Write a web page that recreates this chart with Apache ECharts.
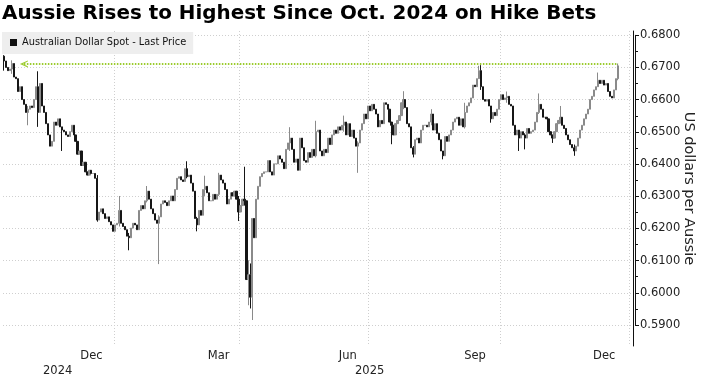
<!DOCTYPE html>
<html>
<head>
<meta charset="utf-8">
<script src="https://cdn.jsdelivr.net/npm/echarts@6/dist/echarts.min.js"></script>
<style>
  html, body { margin: 0; padding: 0; background: #fff; }
  #chart { width: 704px; height: 377px; }
</style>
</head>
<body>
<div id="chart"></div>
<script>
// trading days on the axis: weekdays, a few holidays dropped
const firstDay = '2024-10-14';
const lastDay = '2026-01-02';
const holidays = ['2024-12-25', '2025-01-01', '2025-12-25'];

const seriesName = 'Australian Dollar Spot - Last Price';

// daily closes from 2024-10-14
const closes = [
  // Oct 2024
  0.6720, 0.6700, 0.6690, 0.6695, 0.6712, 0.6670, 0.6665, 0.6625, 0.6640, 0.6600, 0.6585, 0.6560, 0.6570, 0.6580,
  // Nov
  0.6575, 0.6600, 0.6640, 0.6560, 0.6650, 0.6580, 0.6560, 0.6525, 0.6490, 0.6455, 0.6470, 0.6530, 0.6520, 0.6540,
  0.6515, 0.6505, 0.6500, 0.6490, 0.6485, 0.6500, 0.6520,
  // Dec
  0.6490, 0.6470, 0.6430, 0.6440, 0.6395, 0.6405, 0.6375, 0.6365, 0.6380, 0.6370, 0.6370, 0.6355, 0.6225, 0.6250,
  0.6260, 0.6245, 0.6230, 0.6235, 0.6220, 0.6210, 0.6190,
  // Jan 2025
  0.6210, 0.6215, 0.6255, 0.6215, 0.6205, 0.6195, 0.6175, 0.6170, 0.6200, 0.6215, 0.6210, 0.6195, 0.6255, 0.6270,
  0.6260, 0.6285, 0.6315, 0.6290, 0.6260, 0.6245, 0.6225, 0.6215,
  // Feb
  0.6235, 0.6275, 0.6285, 0.6280, 0.6270, 0.6285, 0.6300, 0.6285, 0.6320, 0.6355, 0.6360, 0.6350, 0.6345, 0.6385,
  0.6360, 0.6365, 0.6340, 0.6315, 0.6230, 0.6210,
  // Mar
  0.6255, 0.6240, 0.6320, 0.6330, 0.6310, 0.6285, 0.6285, 0.6305, 0.6290, 0.6305, 0.6365, 0.6350, 0.6340, 0.6320,
  0.6275, 0.6290, 0.6310, 0.6300, 0.6315, 0.6290, 0.6250,
  // Apr
  0.6270, 0.6290, 0.6285, 0.6040, 0.6055, 0.5985, 0.6230, 0.6170, 0.6290, 0.6330, 0.6360, 0.6370, 0.6375, 0.6375,
  0.6410, 0.6375, 0.6365, 0.6400, 0.6400, 0.6425, 0.6415, 0.6405,
  // May
  0.6385, 0.6445, 0.6465, 0.6480, 0.6445, 0.6405, 0.6415, 0.6380, 0.6480, 0.6450, 0.6410, 0.6405, 0.6435, 0.6420,
  0.6445, 0.6425, 0.6500, 0.6505, 0.6440, 0.6425, 0.6445, 0.6435,
  // Jun
  0.6480, 0.6460, 0.6490, 0.6505, 0.6495, 0.6515, 0.6505, 0.6520, 0.6530, 0.6490, 0.6525, 0.6485, 0.6505, 0.6480,
  0.6455, 0.6465, 0.6505, 0.6525, 0.6555, 0.6540, 0.6580,
  // Jul
  0.6565, 0.6585, 0.6570, 0.6555, 0.6515, 0.6535, 0.6525, 0.6590, 0.6585, 0.6570, 0.6530, 0.6520, 0.6490, 0.6525,
  0.6535, 0.6550, 0.6590, 0.6600, 0.6575, 0.6525, 0.6515, 0.6450, 0.6430,
  // Aug
  0.6475, 0.6480, 0.6465, 0.6505, 0.6520, 0.6520, 0.6515, 0.6530, 0.6555, 0.6505, 0.6525, 0.6495, 0.6475, 0.6440,
  0.6425, 0.6485, 0.6470, 0.6490, 0.6505, 0.6530, 0.6540,
  // Sep
  0.6545, 0.6520, 0.6540, 0.6515, 0.6560, 0.6580, 0.6590, 0.6605, 0.6645, 0.6640, 0.6665, 0.6690, 0.6640, 0.6600,
  0.6595, 0.6600, 0.6580, 0.6540, 0.6560, 0.6550, 0.6570, 0.6600,
  // Oct
  0.6615, 0.6600, 0.6605, 0.6610, 0.6585, 0.6580, 0.6520, 0.6490, 0.6505, 0.6480, 0.6500, 0.6490, 0.6480, 0.6510,
  0.6495, 0.6500, 0.6505, 0.6530, 0.6560, 0.6585, 0.6570, 0.6545, 0.6545,
  // Nov
  0.6540, 0.6500, 0.6490, 0.6480, 0.6500, 0.6525, 0.6535, 0.6545, 0.6520, 0.6510, 0.6490, 0.6475, 0.6460, 0.6450,
  0.6440, 0.6455, 0.6480, 0.6505, 0.6520, 0.6540,
  // Dec
  0.6555, 0.6570, 0.6600, 0.6610, 0.6630, 0.6640, 0.6660, 0.6650, 0.6660, 0.6645, 0.6650, 0.6625, 0.6610, 0.6605,
  0.6630, 0.6665, 0.6705
];
const firstOpen = 0.6735;

// bars whose range goes past open/close: [day index, low, high]
const wicks = [
  [0, 0.6690, 0.6738], [4, 0.6680, 0.6722], [12, 0.6520, 0.6580], [17, 0.6515, 0.6688],
  [29, 0.6440, 0.6515], [47, 0.6220, 0.6365], [58, 0.6205, 0.6300], [63, 0.6131, 0.6185],
  [72, 0.6280, 0.6331], [78, 0.6088, 0.6240], [92, 0.6355, 0.6408], [97, 0.6190, 0.6235],
  [101, 0.6300, 0.6363], [108, 0.6300, 0.6372], [118, 0.6222, 0.6300], [121, 0.6270, 0.6391],
  [123, 0.5960, 0.6100], [124, 0.5950, 0.6090], [125, 0.5914, 0.6230], [144, 0.6440, 0.6514],
  [157, 0.6420, 0.6534], [171, 0.6500, 0.6550], [178, 0.6372, 0.6470], [195, 0.6461, 0.6530],
  [201, 0.6570, 0.6626], [206, 0.6420, 0.6455], [215, 0.6520, 0.6570], [221, 0.6414, 0.6440],
  [232, 0.6510, 0.6590], [239, 0.6665, 0.6705], [240, 0.6630, 0.6707], [245, 0.6528, 0.6580],
  [253, 0.6590, 0.6625], [259, 0.6440, 0.6505], [262, 0.6445, 0.6495], [269, 0.6555, 0.6619],
  [276, 0.6465, 0.6490], [280, 0.6525, 0.6580], [287, 0.6425, 0.6460], [299, 0.6640, 0.6684],
  [309, 0.6660, 0.6712]
];

// x labels
const monthTicks = [['2024-12-13', 'Dec'], ['2025-03-17', 'Mar'], ['2025-06-16', 'Jun'], ['2025-09-12', 'Sep'], ['2025-12-12', 'Dec']];
const yearTicks = [['2024-11-20', '2024'], ['2025-07-01', '2025']];

// "highest since" line
const levelLine = 0.6711;
const levelFromIdx = 10;

const dates = [];
for (let d = new Date(firstDay + 'T00:00:00Z'); d <= new Date(lastDay + 'T00:00:00Z'); d.setUTCDate(d.getUTCDate() + 1)) {
  const wd = d.getUTCDay();
  const s = d.toISOString().slice(0, 10);
  if (wd === 0 || wd === 6 || holidays.includes(s)) continue;
  dates.push(s);
}

const wickOf = Object.fromEntries(wicks.map(w => [w[0], w]));
const ohlc = closes.map((c, i) => {
  const o = i ? closes[i - 1] : firstOpen;
  let lo = Math.min(o, c), hi = Math.max(o, c);
  if (wickOf[i]) { lo = Math.min(lo, wickOf[i][1]); hi = Math.max(hi, wickOf[i][2]); }
  return [o, c, lo, hi];
});

const monthOf = Object.fromEntries(monthTicks);
const yearOf = Object.fromEntries(yearTicks);
const isQuarterStart = (idx, val) => idx > 0 && val.slice(5, 7) !== dates[idx - 1].slice(5, 7) &&
  ['01', '04', '07', '10'].includes(val.slice(5, 7));

const FONT = 'DejaVu Sans';
const chart = echarts.init(document.getElementById('chart'));

chart.setOption({
  animation: false,
  title: {
    text: 'Aussie Rises to Highest Since Oct. 2024 on Hike Bets',
    left: 2, top: 4, padding: 0,
    textStyle: {fontFamily: FONT, fontWeight: 'bold', fontSize: 19.9, color: '#000'}
  },
  legend: {
    left: 2, top: 32, padding: [5, 7, 6, 8],
    backgroundColor: '#eeeeee',
    itemWidth: 7, itemHeight: 7, icon: 'rect',
    selectedMode: false,
    textStyle: {fontFamily: "'DejaVu Sans Condensed', 'Liberation Sans'", fontSize: 10.9, color: '#111'},
    data: [{name: seriesName, itemStyle: {color: '#111', borderWidth: 0}}]
  },
  grid: [
    {left: 3, right: 69, top: 31, bottom: 30.5},
    // second grid only for the y ticks, spans 0.59 .. 0.68
    {left: 3, right: 69, top: 35.3, bottom: 52}
  ],
  xAxis: [
    {
      type: 'category', data: dates, gridIndex: 0, boundaryGap: true,
      axisLine: {show: false}, axisTick: {show: false},
      splitLine: {show: true, interval: isQuarterStart, lineStyle: {color: '#cfcfcf', type: [1, 2]}},
      axisLabel: {
        interval: (idx, val) => monthOf[val] !== undefined,
        formatter: val => monthOf[val] || '',
        margin: 4, fontFamily: FONT, fontSize: 11.5, color: '#222'
      }
    },
    {
      type: 'category', data: dates, gridIndex: 0, position: 'bottom', offset: 15,
      axisLine: {show: false}, axisTick: {show: false}, splitLine: {show: false},
      axisLabel: {
        interval: (idx, val) => yearOf[val] !== undefined,
        formatter: val => yearOf[val] || '',
        margin: 4, fontFamily: FONT, fontSize: 11.5, color: '#222'
      }
    },
    {type: 'category', data: dates, gridIndex: 1, show: false}
  ],
  yAxis: [
    {
      type: 'value', gridIndex: 0, position: 'right',
      min: 0.58332, max: 0.68133,
      axisLine: {show: true, onZero: false, lineStyle: {color: '#111', width: 1}},
      axisTick: {show: false}, axisLabel: {show: false}, splitLine: {show: false},
      name: 'US dollars per Aussie', nameLocation: 'middle', nameRotate: -90, nameGap: 48,
      nameTextStyle: {fontFamily: FONT, fontSize: 14.5, color: '#222'}
    },
    {
      type: 'value', gridIndex: 1, position: 'right',
      min: 0.59, max: 0.68, interval: 0.01,
      axisLine: {show: true, onZero: false, lineStyle: {color: '#111', width: 1}},
      axisTick: {show: true, length: 4, lineStyle: {color: '#111'}},
      minorTick: {show: true, splitNumber: 2, length: 3, lineStyle: {color: '#111'}},
      axisLabel: {margin: 5, formatter: v => v.toFixed(4), fontFamily: FONT, fontSize: 11.5, color: '#222'},
      splitLine: {show: true, lineStyle: {color: '#cfcfcf', type: [1, 2]}}
    }
  ],
  series: [{
    name: seriesName,
    type: 'candlestick',
    xAxisIndex: 0, yAxisIndex: 0,
    barWidth: 1.6,
    itemStyle: {color: '#8f8f8f', color0: '#161616', borderColor: '#8a8a8a', borderColor0: '#161616', borderWidth: 1},
    data: ohlc,
    markLine: {
      silent: true,
      symbol: ['path://M0,8 L4,0 L8,8 L6.6,8 L4,2.9 L1.4,8 Z', 'none'],
      symbolSize: [7, 8],
      label: {show: false},
      emphasis: {disabled: true},
      lineStyle: {color: '#9ccc2e', width: 2, type: [1.5, 1.5]},
      data: [[{coord: [dates[levelFromIdx], levelLine]}, {coord: [dates[closes.length - 1], levelLine]}]]
    }
  }]
});
</script>
</body>
</html>
